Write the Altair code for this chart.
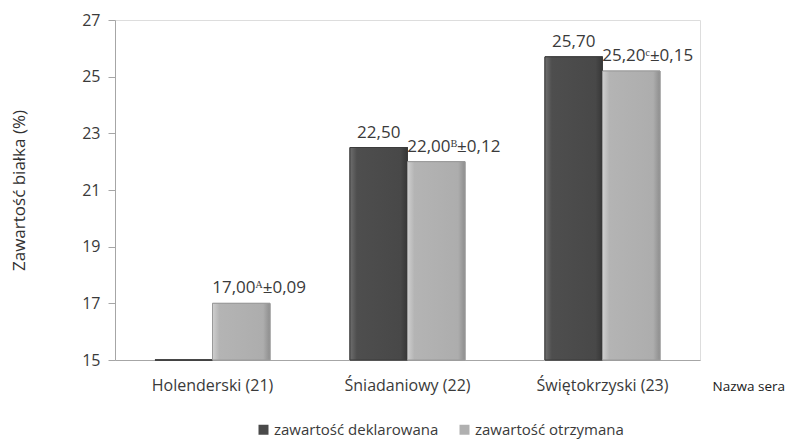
import altair as alt
import pandas as pd

categories = ["Holenderski (21)", "Śniadaniowy (22)", "Świętokrzyski (23)"]
series = ["zawartość deklarowana", "zawartość otrzymana"]
declared = [15.0, 22.50, 25.70]
declared_labels = ["", "22,50", "25,70"]
obtained = [17.00, 22.00, 25.20]
obtained_sup = ["ᴬ", "ᴮ", "ᶜ"]
obtained_sd = ["0,09", "0,12", "0,15"]

rows = []
for i, c in enumerate(categories):
    rows.append({"cat": c, "series": series[0], "value": declared[i],
                 "label": declared_labels[i]})
    rows.append({"cat": c, "series": series[1], "value": obtained[i],
                 "label": f"{obtained[i]:.2f}".replace(".", ",") + obtained_sup[i] + "±" + obtained_sd[i]})
df = pd.DataFrame(rows)

FONT = "Open Sans"
TXT = "#3a3a3a"
BASE = 15

x = alt.X("cat:N", sort=categories,
          scale=alt.Scale(paddingInner=0.41, paddingOuter=0.205),
          axis=alt.Axis(title="Nazwa sera", labelAngle=0, ticks=False, labelPadding=17,
                        labelFontSize=16, labelColor=TXT, labelFont=FONT,
                        domainColor="#a6a6a6", titleFont=FONT, titleFontSize=13.5,
                        titleFontWeight="normal", titleColor="#202020",
                        titleX=597, titleY=26, titleAlign="left", titleBaseline="middle",
                        titleAnchor="start"))
y = alt.Y("value:Q", scale=alt.Scale(domain=[15, 27], zero=False, nice=False),
          axis=alt.Axis(title="Zawartość białka (%)", values=[15, 17, 19, 21, 23, 25, 27],
                        grid=False, tickSize=7, tickColor="#a6a6a6", domainColor="#a6a6a6",
                        labelFontSize=16, labelColor=TXT, labelFont=FONT, labelPadding=8,
                        titleFont=FONT, titleFontSize=17, titleFontWeight="normal",
                        titleColor="#303030", titlePadding=53))

color = alt.Color("series:N", sort=series,
                  scale=alt.Scale(domain=series, range=["#4a4a4a", "#b0b0b0"]),
                  legend=alt.Legend(title=None, orient="none", legendX=141, legendY=402,
                                    direction="horizontal", symbolType="square",
                                    symbolSize=100, symbolStrokeWidth=0, labelLimit=0,
                                    labelFont=FONT, labelFontSize=15, labelColor=TXT,
                                    columnPadding=18, labelOffset=3))

xo = alt.XOffset("series:N", sort=series)
base = alt.Chart(df).encode(x=x, xOffset=xo, y=y, y2=alt.datum(BASE))

bars = base.mark_bar(strokeWidth=1).encode(
    color=color,
    stroke=alt.Stroke("series:N", scale=alt.Scale(domain=series, range=["#3c3c3c", "#9a9a9a"]), legend=None),
)

dark_grad = alt.Gradient(gradient="linear", x1=0, x2=1, y1=0, y2=0, stops=[
    alt.GradientStop(offset=0, color="#6e6e6e"),
    alt.GradientStop(offset=0.12, color="#4e4e4e"),
    alt.GradientStop(offset=0.88, color="#484848"),
    alt.GradientStop(offset=1, color="#363636"),
])
light_grad = alt.Gradient(gradient="linear", x1=0, x2=1, y1=0, y2=0, stops=[
    alt.GradientStop(offset=0, color="#cfcfcf"),
    alt.GradientStop(offset=0.12, color="#b4b4b4"),
    alt.GradientStop(offset=0.88, color="#adadad"),
    alt.GradientStop(offset=1, color="#8e8e8e"),
])
dark_bars = base.mark_bar(color=dark_grad, stroke="#3c3c3c", strokeWidth=1).transform_filter(
    alt.datum.series == series[0])
light_bars = base.mark_bar(color=light_grad, stroke="#9a9a9a", strokeWidth=1).transform_filter(
    alt.datum.series == series[1])

text_base = alt.Chart(df).encode(x=x, xOffset=xo, y=y)
dark_labels = text_base.mark_text(baseline="bottom", dy=-6, font=FONT, fontSize=17, color=TXT).encode(
    text="label:N").transform_filter(alt.datum.series == series[0])
light_labels = text_base.mark_text(baseline="bottom", align="left", dx=-29, dy=-6, font=FONT,
                                   fontSize=17, color=TXT).encode(
    text="label:N").transform_filter(alt.datum.series == series[1])

chart = alt.layer(bars, dark_bars, light_bars, dark_labels, light_labels).properties(
    width=585, height=340,
    autosize=alt.AutoSizeParams(type="none"),
    padding={"left": 115, "top": 20, "right": 104, "bottom": 81},
).configure_view(stroke=None).configure(background="white")

chart.save("out.html", embed_options={"renderer": "svg", "actions": False})
